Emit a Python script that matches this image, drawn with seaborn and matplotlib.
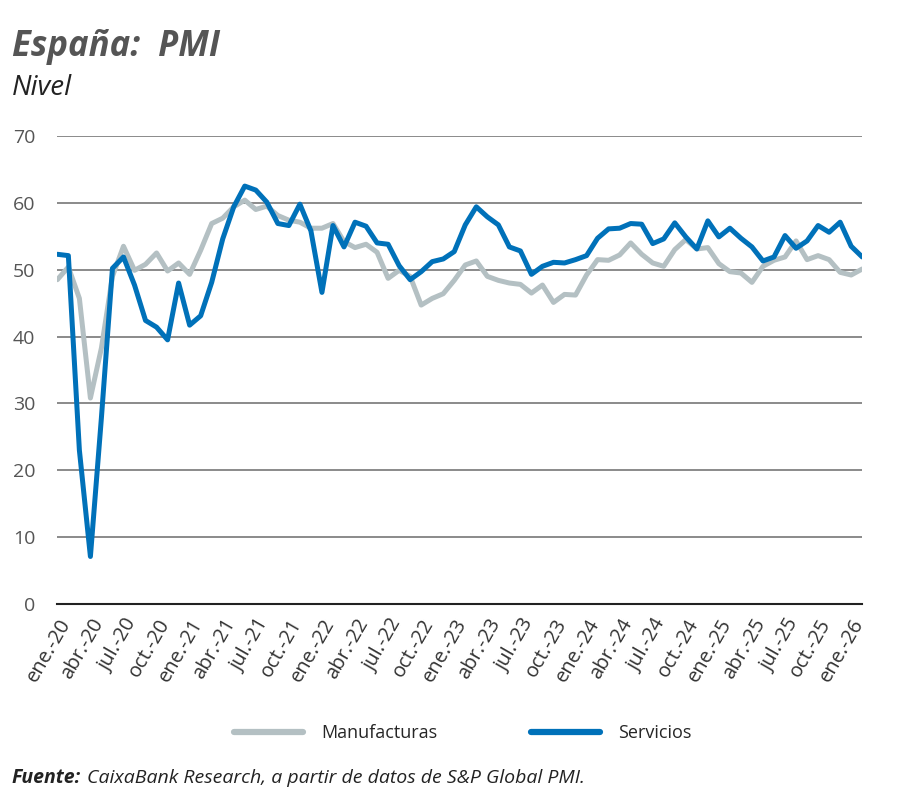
import matplotlib
matplotlib.use("Agg")
import matplotlib.pyplot as plt
import numpy as np
import pandas as pd
import seaborn as sns

GREY_COLOR = "#b4c0c3"
BLUE_COLOR = "#0071b9"
TEXT_COLOR = "#555555"

# monthly PMI, ene-20 .. feb-26
months_es = ["ene.", "feb.", "mar.", "abr.", "may.", "jun.",
             "jul.", "ago.", "sep.", "oct.", "nov.", "dic."]
years = [20, 21, 22, 23, 24, 25, 26]

manufacturas = [
    48.5, 50.4, 45.7, 30.8, 38.3, 49.0, 53.5, 49.9, 50.8, 52.5, 49.8, 51.0,
    49.3, 52.9, 56.9, 57.7, 59.4, 60.4, 59.0, 59.5, 58.1, 57.4, 57.1, 56.2,
    56.2, 56.9, 54.2, 53.3, 53.8, 52.6, 48.7, 49.9, 49.0, 44.7, 45.7, 46.4,
    48.4, 50.7, 51.3, 49.0, 48.4, 48.0, 47.8, 46.5, 47.7, 45.1, 46.3, 46.2,
    49.2, 51.5, 51.4, 52.2, 54.0, 52.3, 51.0, 50.5, 53.0, 54.5, 53.1, 53.3,
    50.9, 49.7, 49.5, 48.1, 50.5, 51.4, 51.9, 54.3, 51.5, 52.1, 51.5, 49.6,
    49.2, 50.1,
]
servicios = [
    52.3, 52.1, 23.0, 7.1, 27.9, 50.2, 51.9, 47.7, 42.4, 41.4, 39.5, 48.0,
    41.7, 43.1, 48.1, 54.6, 59.4, 62.5, 61.9, 60.1, 56.9, 56.6, 59.8, 55.8,
    46.6, 56.6, 53.4, 57.1, 56.5, 54.0, 53.8, 50.6, 48.5, 49.7, 51.2, 51.6,
    52.7, 56.7, 59.4, 57.9, 56.7, 53.4, 52.8, 49.3, 50.5, 51.1, 51.0, 51.5,
    52.1, 54.7, 56.1, 56.2, 56.9, 56.8, 53.9, 54.6, 57.0, 54.9, 53.1, 57.3,
    54.9, 56.2, 54.7, 53.4, 51.3, 51.9, 55.1, 53.2, 54.3, 56.6, 55.6, 57.1,
    53.5, 51.9,
]

n = len(manufacturas)
labels = [f"{months_es[i % 12]}-{years[i // 12]}" for i in range(n)]

df = pd.DataFrame({
    "t": np.arange(n).tolist() * 2,
    "valor": manufacturas + servicios,
    "serie": ["Manufacturas"] * n + ["Servicios"] * n,
})

sns.set_style("white")
plt.rcParams["font.family"] = ["Open Sans", "DejaVu Sans"]

fig = plt.figure(figsize=(9, 7.95), dpi=100)
ax = fig.add_axes([0.0637, 0.2403, 0.8943, 0.5887])

sns.lineplot(
    data=df, x="t", y="valor", hue="serie",
    palette={"Manufacturas": GREY_COLOR, "Servicios": BLUE_COLOR},
    linewidth=3.6, ax=ax, legend=False,
)

ax.set_xlim(0, n - 1)
ax.set_ylim(0, 70)
ax.set_yticks(range(0, 71, 10))
ax.yaxis.grid(True, color="#6b6b6b", linewidth=1.1)
ax.set_axisbelow(True)
ax.tick_params(axis="y", length=0, labelsize=14, labelcolor=TEXT_COLOR, pad=16)

tick_pos = list(range(0, n, 3))
ax.set_xticks(tick_pos)
ax.set_xticklabels([labels[i] for i in tick_pos], rotation=60, ha="right",
                   rotation_mode="anchor", fontsize=14.5, color="#333333")
ax.tick_params(axis="x", direction="in", length=6, width=1.2, color="#222222", pad=8)

for side in ["top", "right", "left"]:
    ax.spines[side].set_visible(False)
ax.spines["bottom"].set_color("#222222")
ax.spines["bottom"].set_linewidth(1.5)
ax.set_xlabel("")
ax.set_ylabel("")

# legend
handles = [
    plt.Line2D([], [], color=GREY_COLOR, linewidth=4.5),
    plt.Line2D([], [], color=BLUE_COLOR, linewidth=4.5),
]
fig.legend(handles, ["Manufacturas", "Servicios"], loc="center",
           bbox_to_anchor=(0.514, 0.078), ncol=2, frameon=False,
           fontsize=13, handlelength=3.8, handletextpad=1.0,
           columnspacing=5.2)

fig.text(0.013, 0.941, "España:  PMI", fontsize=25, fontweight="bold",
         fontstyle="italic", color=TEXT_COLOR, va="center")
fig.text(0.013, 0.889, "Nivel", fontsize=20, fontstyle="italic",
         color="#222222", va="center")
fig.text(0.013, 0.021, "Fuente:", fontsize=14, fontweight="bold",
         fontstyle="italic", color="#222222", va="center")
fig.text(0.097, 0.021, "CaixaBank Research, a partir de datos de S&P Global PMI.",
         fontsize=14, fontstyle="italic", color="#222222", va="center")

fig.savefig("out.png", dpi=100)
